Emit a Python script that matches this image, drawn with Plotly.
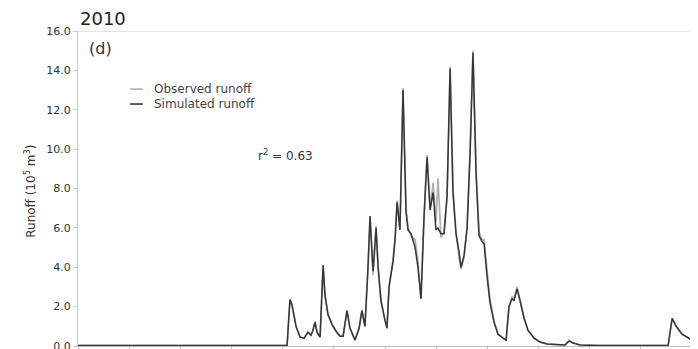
import plotly.graph_objects as go

# day of year and runoff (10^5 m^3)
days = [0, 124.3, 126.0, 127.2, 129.6, 132.0, 134.4, 136.7, 138.5, 139.7, 140.9, 142.1, 143.9,
        145.7, 146.8, 148.6, 151.0, 153.4, 155.8, 157.6, 159.9, 161.7, 164.7, 167.1, 168.8,
        170.6, 172.4, 173.6, 175.4, 177.2, 178.4, 180.1, 182.5, 183.7, 184.9, 187.3, 188.5,
        189.7, 191.4, 193.2, 195.0, 196.2, 198.0, 200.4, 202.1, 203.9, 205.7, 207.5, 209.3,
        211.1, 212.8, 214.0, 215.8, 217.6, 219.4, 221.2, 222.9, 224.7, 226.5, 227.7, 229.5,
        231.3, 233.1, 234.8, 236.6, 238.4, 240.2, 241.4, 243.2, 244.9, 247.3, 249.7, 252.7,
        254.5, 256.2, 258.0, 259.2, 261.0, 262.8, 265.2, 267.5, 271.1, 274.7, 278.8, 289.5,
        291.9, 294.3, 298.5, 310.3, 350.8, 353.2, 355.6, 359.1, 363.9, 365]

observed = [0.02, 0.02, 2.4, 2.1, 1.0, 0.45, 0.4, 0.7, 0.55, 0.8, 1.25, 0.7, 0.45,
            4.1, 2.6, 1.6, 1.1, 0.75, 0.5, 0.5, 1.8, 0.9, 0.3, 0.9, 1.85,
            1.0, 4.0, 6.6, 3.6, 6.1, 4.0, 2.3, 1.3, 0.9, 3.0, 4.4, 5.6,
            7.4, 5.9, 13.1, 7.0, 6.0, 5.6, 5.4, 4.3, 2.4, 6.7, 9.7, 7.0,
            8.3, 6.3, 8.5, 5.5, 5.8, 7.6, 14.2, 8.0, 5.8, 4.5, 3.9, 4.5,
            6.0, 10.0, 15.0, 9.0, 5.8, 5.4, 5.4, 3.8, 2.4, 1.3, 0.6, 0.4,
            0.3, 2.0, 2.5, 2.4, 3.0, 2.3, 1.4, 0.8, 0.4, 0.2, 0.1, 0.05,
            0.3, 0.15, 0.05, 0.02, 0.02, 1.4, 1.0, 0.6, 0.35, 0.3]

simulated = [0.02, 0.02, 2.35, 2.1, 1.0, 0.45, 0.4, 0.7, 0.55, 0.8, 1.2, 0.7, 0.45,
             4.1, 2.6, 1.6, 1.1, 0.75, 0.5, 0.5, 1.8, 0.9, 0.3, 0.9, 1.8,
             1.0, 4.0, 6.6, 3.8, 6.0, 4.0, 2.3, 1.3, 0.9, 3.0, 4.3, 5.4,
             7.3, 5.9, 13.0, 6.8, 5.9, 5.7, 5.0, 4.0, 2.4, 6.5, 9.6, 6.9,
             7.8, 5.9, 6.0, 5.7, 5.7, 7.6, 14.1, 7.8, 5.7, 4.8, 4.0, 4.6,
             6.0, 9.8, 14.9, 8.8, 5.6, 5.3, 5.2, 3.5, 2.2, 1.2, 0.6, 0.4,
             0.3, 2.0, 2.4, 2.3, 2.9, 2.3, 1.4, 0.8, 0.4, 0.2, 0.1, 0.05,
             0.25, 0.15, 0.05, 0.02, 0.02, 1.4, 1.0, 0.6, 0.35, 0.3]

y_ticks = [0, 2, 4, 6, 8, 10, 12, 14, 16]
x_ticks = [i * 365 / 12 for i in range(13)]

font = "DejaVu Sans, sans-serif"

fig = go.Figure()
fig.add_trace(go.Scatter(x=days, y=observed, mode="lines", name="Observed runoff",
                         line=dict(color="#b0b0b0", width=1.7)))
fig.add_trace(go.Scatter(x=days, y=simulated, mode="lines", name="Simulated runoff",
                         line=dict(color="#363636", width=1.5)))

fig.update_layout(
    width=690, height=341,
    margin=dict(l=70, r=6, t=23, b=3),
    paper_bgcolor="white", plot_bgcolor="white",
    showlegend=False,
    font=dict(family=font, color="#333333", size=11),
    xaxis=dict(range=[0, 365], tickvals=x_ticks, showticklabels=False, ticks="outside",
               ticklen=4, tickcolor="#bbbbbb", showline=True, linecolor="#bbbbbb",
               linewidth=1, showgrid=False, zeroline=False, automargin=False),
    yaxis=dict(range=[0, 16], tickvals=y_ticks, tickformat=".1f", ticks="outside",
               ticklen=4, tickcolor="#cccccc", showline=True, linecolor="#cccccc",
               linewidth=1, showgrid=False, zeroline=False, automargin=False,
               ticklabeloverflow="allow",
               tickfont=dict(size=11, color="#333333")),
)

fig.add_shape(type="line", xref="paper", yref="y", x0=0, x1=1.01, y0=16, y1=16,
              line=dict(color="#dddddd", width=1.5))

# legend
fig.add_shape(type="line", xref="x", yref="y", x0=31, x1=38.5, y0=13.05, y1=13.05,
              line=dict(color="#b0b0b0", width=1.6))
fig.add_shape(type="line", xref="x", yref="y", x0=31, x1=38.5, y0=12.29, y1=12.29,
              line=dict(color="#363636", width=1.6))
fig.add_annotation(x=44, y=13.05, xref="x", yref="y", text="Observed runoff", showarrow=False,
                   xanchor="left", font=dict(size=12, color="#444444"))
fig.add_annotation(x=44, y=12.29, xref="x", yref="y", text="Simulated runoff", showarrow=False,
                   xanchor="left", font=dict(size=12, color="#444444"))

fig.add_annotation(x=106, y=9.7, xref="x", yref="y", text="r<sup>2</sup> = 0.63", showarrow=False,
                   xanchor="left", font=dict(size=12, color="#333333"))
fig.add_annotation(x=5.5, y=15.1, xref="x", yref="y", text="(d)", showarrow=False,
                   xanchor="left", font=dict(size=16, color="#333333"))
fig.add_annotation(x=0, y=1.0, xref="paper", yref="paper", yshift=13, text="2010",
                   showarrow=False, xanchor="left", yanchor="middle",
                   font=dict(size=18, color="#222222"))
fig.add_annotation(x=-0.078, y=0.49, xref="paper", yref="paper",
                   text="Runoff (10<sup>5</sup> m<sup>3</sup>)", showarrow=False, textangle=-90,
                   xanchor="center", yanchor="middle", font=dict(size=12, color="#333333"))

fig.write_html("out.html")
